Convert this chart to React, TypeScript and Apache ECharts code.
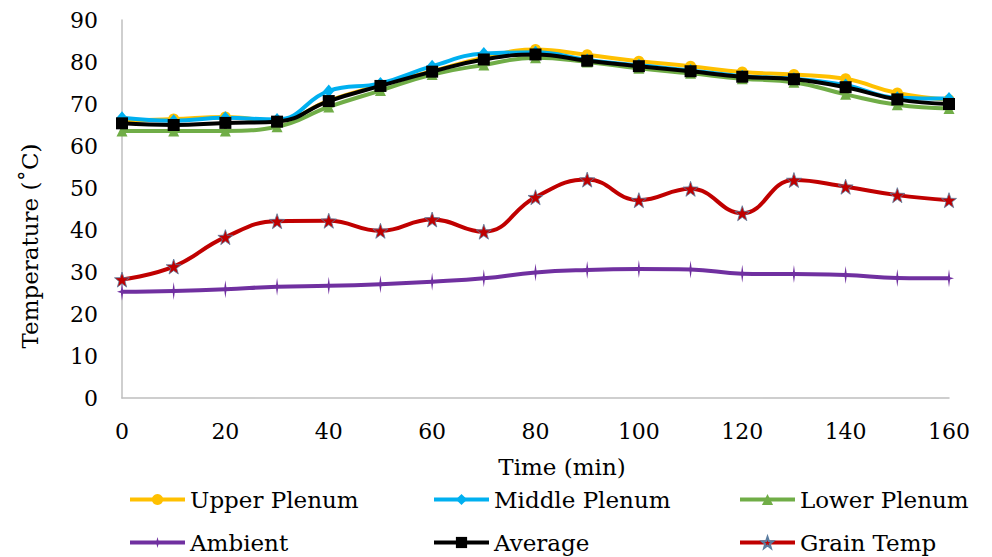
import React, { useEffect, useRef } from "react";
import * as echarts from "echarts";

const times = [0, 10, 20, 30, 40, 50, 60, 70, 80, 90, 100, 110, 120, 130, 140, 150, 160];
const upperPlenum = [66.0, 66.4, 66.9, 66.0, 70.8, 74.5, 77.8, 81.0, 83.0, 81.7, 80.2, 79.0, 77.6, 77.0, 76.0, 72.6, 71.0];
const middlePlenum = [66.7, 66.0, 66.7, 66.3, 73.1, 74.9, 79.0, 82.0, 82.3, 80.5, 79.2, 78.0, 76.6, 76.0, 74.5, 71.5, 71.3];
const lowerPlenum = [63.6, 63.6, 63.6, 64.6, 69.3, 73.2, 77.0, 79.3, 81.0, 80.0, 78.5, 77.3, 76.0, 75.2, 72.3, 69.8, 68.9];
const ambient = [25.3, 25.5, 25.9, 26.5, 26.7, 27.1, 27.7, 28.5, 29.9, 30.5, 30.7, 30.6, 29.6, 29.5, 29.3, 28.6, 28.5];
const average = [65.4, 65.0, 65.5, 65.8, 70.7, 74.3, 77.7, 80.6, 81.8, 80.3, 79.0, 77.8, 76.5, 75.9, 74.0, 71.1, 70.0];
const grainTemp = [28.2, 31.3, 38.3, 42.1, 42.2, 39.8, 42.5, 39.6, 47.8, 52.0, 47.1, 49.8, 44.0, 51.9, 50.3, 48.3, 47.1];

const seriesNames = ["Upper Plenum", "Middle Plenum", "Lower Plenum", "Ambient", "Average", "Grain Temp"];
const yTicks = { min: 0, max: 90, interval: 10 };
const xTicks = { min: 0, max: 160, interval: 20 };
const xTitle = "Time (min)";
const yTitle = "Temperature (˚C)";

const FONT = "DejaVu Serif";
const STAR =
  "path://M0,-10 L2.35,-3.24 L9.51,-3.09 L3.8,1.24 L5.88,8.09 L0,4 L-5.88,8.09 L-3.8,1.24 L-9.51,-3.09 L-2.35,-3.24Z";
const CROSS = "path://M0,-10 L1.3,-1.3 L6,0 L1.3,1.3 L0,10 L-1.3,1.3 L-6,0 L-1.3,-1.3Z";

export default function App() {
  const ref = useRef<HTMLDivElement>(null);
  useEffect(() => {
    if (!ref.current) return;
    const chart = echarts.init(ref.current, null, { renderer: "svg" });
    const pair = (vals: number[]) => times.map((t, i) => [t, vals[i]]);
    const mk = (
      name: string,
      vals: number[],
      color: string,
      symbol: string,
      symbolSize: number | number[],
      extra: any = {}
    ) => ({
      name,
      type: "line",
      data: pair(vals),
      smooth: 0.45,
      symbol,
      symbolSize,
      lineStyle: { color, width: 4 },
      itemStyle: { color, ...(extra.itemStyle || {}) },
      z: extra.z || 2,
    });
    const legendPos = [
      [128, 488],
      [432, 488],
      [738, 488],
      [128, 531],
      [432, 531],
      [738, 531],
    ];
    chart.setOption({
      animation: false,
      backgroundColor: "#ffffff",
      textStyle: { fontFamily: FONT },
      grid: { left: 122, right: 43, top: 20, bottom: 159, containLabel: false },
      legend: seriesNames.map((n, i) => ({
        data: [n],
        left: legendPos[i][0],
        top: legendPos[i][1],
        itemWidth: 55,
        itemHeight: 14,
        itemGap: 0,
        lineStyle: { width: 4 },
        textStyle: { fontFamily: FONT, fontSize: 23, color: "#000" },
        padding: 0,
        selectedMode: false,
      })),
      graphic: [
        {
          type: "text",
          x: 562,
          y: 467,
          style: {
            text: xTitle,
            fontFamily: FONT,
            fontSize: 23,
            fill: "#000",
            align: "center",
            verticalAlign: "middle",
          },
        },
        {
          type: "text",
          x: 30,
          y: 246,
          rotation: Math.PI / 2,
          style: {
            text: yTitle,
            fontFamily: FONT,
            fontSize: 23,
            fill: "#000",
            align: "center",
            verticalAlign: "middle",
          },
        },
      ],
      xAxis: {
        type: "value",
        min: xTicks.min,
        max: xTicks.max,
        interval: xTicks.interval,
        axisLine: { show: true, lineStyle: { color: "#BFBFBF", width: 1.5 } },
        axisTick: { show: false },
        splitLine: { show: false },
        axisLabel: { fontFamily: FONT, fontSize: 22, color: "#000", margin: 22 },
      },
      yAxis: {
        type: "value",
        min: yTicks.min,
        max: yTicks.max,
        interval: yTicks.interval,
        axisLine: { show: true, lineStyle: { color: "#BFBFBF", width: 1.5 } },
        axisTick: { show: false },
        splitLine: { show: false },
        axisLabel: { fontFamily: FONT, fontSize: 22, color: "#000", margin: 24 },
      },
      series: [
        mk(seriesNames[0], upperPlenum, "#FFC000", "circle", 11),
        mk(seriesNames[1], middlePlenum, "#00B0F0", "diamond", [11, 13]),
        mk(seriesNames[2], lowerPlenum, "#70AD47", "triangle", 11),
        mk(seriesNames[3], ambient, "#7030A0", CROSS, [10, 18]),
        mk(seriesNames[4], average, "#000000", "rect", 12, { z: 3 }),
        mk(seriesNames[5], grainTemp, "#C00000", STAR, 15, {
          itemStyle: { borderColor: "#5B7DA0", borderWidth: 0.8 },
          z: 3,
        }),
      ],
    });
    return () => chart.dispose();
  }, []);
  return (
    <div
      ref={ref}
      style={{ position: "fixed", left: 0, top: 0, width: 992, height: 557, background: "#fff" }}
    />
  );
}
